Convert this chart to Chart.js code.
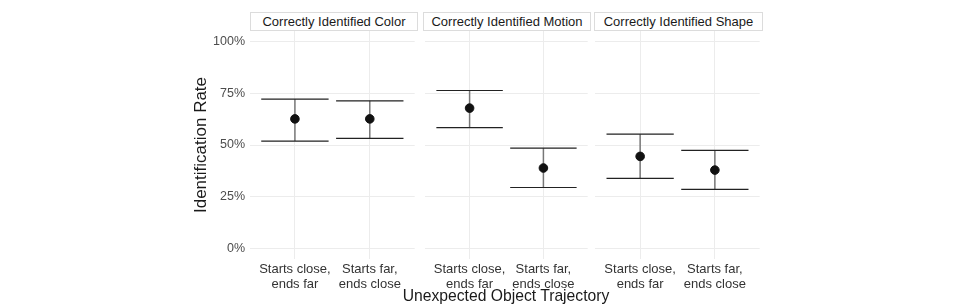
<!DOCTYPE html>
<html>
<head>
<meta charset="utf-8">
<script src="https://cdn.jsdelivr.net/npm/chart.js@4/dist/chart.umd.min.js"></script>
<style>
  html, body { margin: 0; padding: 0; background: #fff; }
  #wrap { position: relative; width: 963px; height: 306px; overflow: hidden; font-family: "Liberation Sans", Arial, sans-serif; }
  .panel { position: absolute; top: 0; height: 306px; }
  .strip {
    position: absolute; top: 12px; height: 17px; line-height: 17px;
    border: 1px solid #dcdcdc; background: #fff; box-sizing: content-box;
    text-align: center; font-size: 13px; color: #1a1a1a; white-space: nowrap;
  }
  #xtitle { position: absolute; left: 250px; width: 512px; top: 287px; text-align: center; font-size: 15.7px; color: #1a1a1a; }
</style>
</head>
<body>
<div id="wrap">
  <div class="panel" style="left:0;width:420px"><canvas id="c0"></canvas></div>
  <div class="panel" style="left:420px;width:173px"><canvas id="c1"></canvas></div>
  <div class="panel" style="left:590px;width:175px"><canvas id="c2"></canvas></div>
  <div class="strip" id="s0" style="left:250px;width:166px"></div>
  <div class="strip" id="s1" style="left:423px;width:166px"></div>
  <div class="strip" id="s2" style="left:594px;width:167px"></div>
  <div id="xtitle">Unexpected Object Trajectory</div>
</div>
<script>
// ─────────────────────────────────────────────────────────────
// DATA
// ─────────────────────────────────────────────────────────────
const panelNames = ['Correctly Identified Color', 'Correctly Identified Motion', 'Correctly Identified Shape'];
const categories = [['Starts close,', 'ends far'], ['Starts far,', 'ends close']];
const yTicks = [0, 25, 50, 75, 100];

const rateColor  = [62.6, 62.6];
const lowColor   = [51.9, 53.2];
const highColor  = [72.1, 71.3];

const rateMotion = [67.8, 38.9];
const lowMotion  = [58.4, 29.5];
const highMotion = [76.3, 48.5];

const rateShape  = [44.5, 37.9];
const lowShape   = [33.9, 28.6];
const highShape  = [55.2, 47.4];

const PANELS = [
  { rate: rateColor,  low: lowColor,  high: highColor },
  { rate: rateMotion, low: lowMotion, high: highMotion },
  { rate: rateShape,  low: lowShape,  high: highShape },
];

// ─────────────────────────────────────────────────────────────
// STYLE
// ─────────────────────────────────────────────────────────────
const FONT = "'Liberation Sans', Arial, sans-serif";
const GRID = '#ececec';

// error bars drawn under the points
const errorBars = {
  id: 'errorBars',
  beforeDatasetsDraw(chart, args, opts) {
    const { ctx, scales: { x, y } } = chart;
    const half = x.getPixelForValue(0.45) - x.getPixelForValue(0);
    ctx.save();
    opts.low.forEach((lo, i) => {
      const hi = opts.high[i];
      const px = x.getPixelForValue(i);
      const yl = y.getPixelForValue(lo);
      const yh = y.getPixelForValue(hi);
      ctx.strokeStyle = '#777';
      ctx.lineWidth = 1.5;
      ctx.beginPath();
      ctx.moveTo(px, yl); ctx.lineTo(px, yh);
      ctx.stroke();
      ctx.strokeStyle = '#222';
      ctx.lineWidth = 1.2;
      ctx.beginPath();
      ctx.moveTo(px - half, yh); ctx.lineTo(px + half, yh);
      ctx.moveTo(px - half, yl); ctx.lineTo(px + half, yl);
      ctx.stroke();
    });
    ctx.restore();
  }
};

function buildChart(idx) {
  const p = PANELS[idx];
  const first = idx === 0;
  const padLeft = first ? 191 : (idx === 1 ? 3 : 4);

  return new Chart(document.getElementById('c' + idx), {
    type: 'scatter',
    data: {
      datasets: [{
        data: p.rate.map((v, i) => ({ x: i, y: v })),
        backgroundColor: '#111',
        borderColor: '#111',
        pointRadius: 4.3,
        pointHoverRadius: 4.3,
      }]
    },
    options: {
      responsive: true,
      maintainAspectRatio: false,
      animation: false,
      events: [],
      layout: { padding: { left: padLeft, right: 3, top: 31, bottom: 0 } },
      plugins: {
        legend: { display: false },
        tooltip: { enabled: false },
        errorBars: { low: p.low, high: p.high },
      },
      scales: {
        x: {
          type: 'linear',
          min: -0.6,
          max: 1.6,
          border: { display: false },
          grid: { color: GRID, drawTicks: false },
          afterBuildTicks: s => { s.ticks = categories.map((c, i) => ({ value: i })); },
          afterFit: s => { s.height = 47; },
          ticks: {
            padding: 3,
            maxRotation: 0,
            autoSkip: false,
            color: '#333',
            font: { size: 13, family: FONT, lineHeight: 1.15 },
            callback: v => categories[v],
          },
        },
        y: {
          min: -5,
          max: 105,
          border: { display: false },
          grid: { color: GRID, drawTicks: false },
          afterBuildTicks: s => { s.ticks = yTicks.map(v => ({ value: v })); },
          afterFit: s => { s.width = first ? 59 : 0; },
          ticks: {
            display: first,
            padding: 5,
            color: '#4d4d4d',
            font: { size: 12.5, family: FONT },
            callback: v => v + '%',
          },
          title: {
            display: first,
            text: 'Identification Rate',
            color: '#1a1a1a',
            padding: 0,
            font: { size: 17, family: FONT },
          },
        }
      }
    },
    plugins: [errorBars]
  });
}

// ─────────────────────────────────────────────────────────────
// INIT
// ─────────────────────────────────────────────────────────────
panelNames.forEach((name, i) => {
  document.getElementById('s' + i).textContent = name;
  buildChart(i);
});
</script>
</body>
</html>
